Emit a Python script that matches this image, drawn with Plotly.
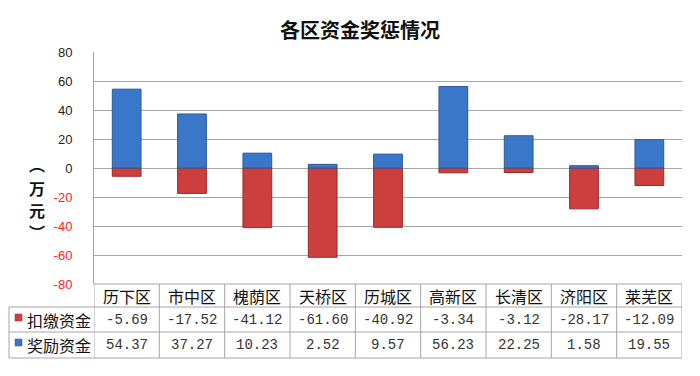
import plotly.graph_objects as go

districts = ["历下区", "市中区", "槐荫区", "天桥区", "历城区", "高新区", "长清区", "济阳区", "莱芜区"]
penalty = [-5.69, -17.52, -41.12, -61.60, -40.92, -3.34, -3.12, -28.17, -12.09]
reward = [54.37, 37.27, 10.23, 2.52, 9.57, 56.23, 22.25, 1.58, 19.55]
series_names = ["扣缴资金", "奖励资金"]
y_ticks = [80, 60, 40, 20, 0, -20, -40, -60, -80]
title_text = "各区资金奖惩情况"
y_title_chars = ["︵", "万", "元", "︶"]

W, H = 700, 376
L, R, T, B = 94, 682, 52, 284
pw, ph = R - L, B - T

def px(x):
    return (x - L) / pw

def py(y):
    return 1 - (y - T) / ph

RED = "#cc3f3e"
RED_D = "#9a2a28"
BLUE = "#3b77c8"
BLUE_D = "#2a5a9a"
GRID = "#a6a6a6"

fig = go.Figure()
fig.add_trace(go.Bar(x=districts, y=penalty, name=series_names[0], width=0.44,
                     marker=dict(color=RED, line=dict(color=RED_D, width=1))))
fig.add_trace(go.Bar(x=districts, y=reward, name=series_names[1], width=0.44,
                     marker=dict(color=BLUE, line=dict(color=BLUE_D, width=1))))

ticktext = []
for v in y_ticks:
    if v < 0:
        ticktext.append('<span style="color:#ff2020">%d</span>' % v)
    else:
        ticktext.append(str(v))

fig.update_layout(
    width=W, height=H,
    margin=dict(l=L, r=W - R, t=T, b=H - B),
    paper_bgcolor="white", plot_bgcolor="white",
    barmode="relative",
    showlegend=False,
    title=dict(text="<b>" + title_text + "</b>", x=360 / W, xanchor="center",
               y=1 - 31 / H, yanchor="middle", xref="container", yref="container",
               font=dict(family="Noto Sans CJK SC", size=20, color="#111")),
    xaxis=dict(range=[-0.5, len(districts) - 0.5], showticklabels=False, showgrid=False,
               zeroline=False, showline=False, ticks=""),
    yaxis=dict(range=[-80, 80], tickvals=y_ticks, ticktext=ticktext, showgrid=True,
               gridcolor=GRID, gridwidth=1, zeroline=True, zerolinecolor=GRID, zerolinewidth=1,
               showline=True, linecolor=GRID, linewidth=1, ticks="",
               ticklabelstandoff=18,
               tickfont=dict(family="Liberation Sans", size=13, color="#222")),
)

shapes = []
row_y = [284, 307, 332, 358]
for i, yy in enumerate(row_y):
    x0 = L if i == 0 else 9
    shapes.append(dict(type="line", xref="paper", yref="paper", x0=px(x0), x1=px(R),
                       y0=py(yy), y1=py(yy), line=dict(color=GRID, width=1)))
for i in range(len(districts) + 1):
    shapes.append(dict(type="line", xref="x", yref="paper", x0=i - 0.5, x1=i - 0.5,
                       y0=py(284), y1=py(358), line=dict(color=GRID, width=1)))
shapes.append(dict(type="line", xref="paper", yref="paper", x0=px(9), x1=px(9),
                   y0=py(307), y1=py(358), line=dict(color=GRID, width=1)))
shapes.append(dict(type="rect", xref="paper", yref="paper", x0=px(15), x1=px(22),
                   y0=py(314), y1=py(321), fillcolor=RED, line=dict(color=RED_D, width=0.5)))
shapes.append(dict(type="rect", xref="paper", yref="paper", x0=px(15), x1=px(22),
                   y0=py(339), y1=py(346), fillcolor=BLUE, line=dict(color=BLUE_D, width=0.5)))
fig.update_layout(shapes=shapes)

ann = []
cat_font = dict(family="Noto Sans CJK SC", size=16, color="#111")
num_font = dict(family="Liberation Mono", size=14, color="#333")
for i, d in enumerate(districts):
    ann.append(dict(x=d, xref="x", y=py(295.5), yref="paper", text=d, showarrow=False,
                    font=cat_font, xanchor="center", yanchor="middle"))
    ann.append(dict(x=d, xref="x", y=py(319.5), yref="paper", text="%.2f" % penalty[i],
                    showarrow=False, font=num_font, xanchor="center", yanchor="middle"))
    ann.append(dict(x=d, xref="x", y=py(345), yref="paper", text="%.2f" % reward[i],
                    showarrow=False, font=num_font, xanchor="center", yanchor="middle"))
ann.append(dict(x=px(25), xref="paper", y=py(319.5), yref="paper", text=series_names[0],
                showarrow=False, font=cat_font, xanchor="left", yanchor="middle"))
ann.append(dict(x=px(25), xref="paper", y=py(345), yref="paper", text=series_names[1],
                showarrow=False, font=cat_font, xanchor="left", yanchor="middle"))
# vertical axis title: upright stacked characters
char_y = [164, 188, 210, 232]
for ch, cy in zip(y_title_chars, char_y):
    ann.append(dict(x=px(37), xref="paper", y=py(cy), yref="paper", text="<b>" + ch + "</b>",
                    showarrow=False, font=dict(family="Noto Sans CJK SC", size=16, color="#111"),
                    xanchor="center", yanchor="middle"))
fig.update_layout(annotations=ann)

fig.write_html("out.html", config={"displayModeBar": False},
               post_script="document.body.style.margin='0';")
